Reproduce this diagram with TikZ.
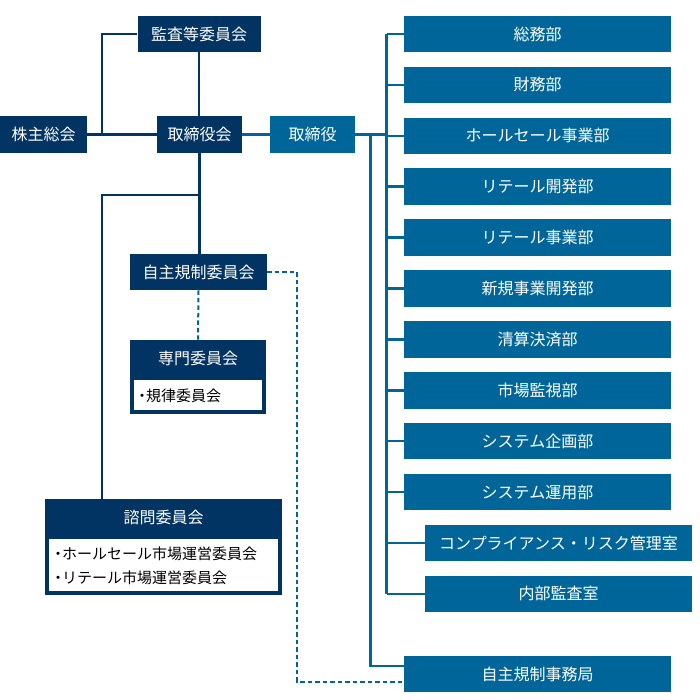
\documentclass[tikz,border=0pt]{standalone}
\usepackage{fontspec}
\setmainfont{Noto Sans CJK JP}
\usetikzlibrary{positioning,calc}
\definecolor{navy}{HTML}{023463}
\definecolor{sea}{HTML}{00669A}
\newcommand{\dotmark}{\hspace*{-3.5pt}・\kern-3.5pt}

\begin{document}
\begin{tikzpicture}[x=1pt,y=-1pt,font=\fontsize{16}{19}\selectfont,
    navybox/.style={fill=navy,text=white,inner sep=0pt,minimum height=36.5pt},
    deptbox/.style={fill=sea,text=white,inner sep=0pt,minimum width=267pt,minimum height=36.5pt},
    listbox/.style={draw=navy,line width=4pt,fill=white,text=black,inner sep=0pt,
      anchor=north,align=left,font=\fontsize{15}{24}\selectfont},
    navyline/.style={navy,line width=2.6pt},
    sealine/.style={sea,line width=2.4pt},
    dashline/.style={sea,line width=2pt,dash pattern=on 4.5pt off 3pt}]
  \useasboundingbox (0,0) rectangle (700,700);

  \node[navybox,minimum width=123pt] (audit) at (199,34) {監査等委員会};
  \node[navybox,minimum width=87pt] (share) at (43.5,134.5) {株主総会};
  \node[navybox,minimum width=85pt] (board) at (199.5,134.5) {取締役会};
  \node[navybox,minimum width=85pt,fill=sea] (dir) at (312.5,134.5) {取締役};
  \node[navybox,minimum width=137pt] (selfreg) at (198.5,272) {自主規制委員会};
  \node[navybox,minimum width=136pt] (senmon) at (198,358) {専門委員会};
  \node[listbox,minimum width=132pt,minimum height=34pt,text width=120pt]
    (senmonlist) at (senmon.south) {\dotmark 規律委員会};
  \node[navybox,minimum width=237pt] (shimon) at (163.5,517) {諮問委員会};
  \node[listbox,minimum width=233pt,minimum height=56pt,text width=219pt]
    (shimonlist) at (shimon.south)
    {\dotmark ホールセール市場運営委員会\\\dotmark リテール市場運営委員会};

  \foreach \i/\t in {1/総務部,2/財務部,3/ホールセール事業部,4/リテール開発部,
      5/リテール事業部,6/新規事業開発部,7/清算決済部,8/市場監視部,
      9/システム企画部,10/システム運用部}
    \node[deptbox] (d\i) at (537.5,{34+(\i-1)*50.9}) {\t};
  \node[deptbox] (d11) at (558.5,543) {コンプライアンス・リスク管理室};
  \node[deptbox] (d12) at (558.5,593.9) {内部監査室};
  \node[deptbox] (d13) at (537.5,674) {自主規制事務局};

  \coordinate (lbus) at (102,0);
  \coordinate (br) at (0,195);
  \coordinate (spine) at (386.5,0);
  \coordinate (inner) at (370.5,0);
  \coordinate (dbus) at (297,0);

  \draw[navyline] (share.east) -- (board.west);
  \draw[navyline] (audit.west) -| (share.east -| lbus);
  \draw[navyline] (audit.south) -- (audit.south |- board.north);
  \draw[navyline] (board.south) -- (board.south |- selfreg.north);
  \draw[navyline] (board.south |- br) -| (lbus |- shimon.north);
  \draw[sealine] (board.east) -- (dir.west);

  \draw[sealine] (dir.east) -- (dir.east -| spine);
  \draw[sealine] (d1.west -| spine) -- (d12.west -| spine);
  \foreach \i in {1,...,12}
    \draw[sealine] (d\i.west) -- (d\i.west -| spine);
  \draw[sealine] (dir.east -| inner) |- ($(d13.west)+(0,-8)$);

  \draw[dashline] (selfreg.south) -- (senmon.north);
  \draw[dashline] (selfreg.east) -- (selfreg.east -| dbus) |- ($(d13.west)+(0,7.5)$);
\end{tikzpicture}
\end{document}
